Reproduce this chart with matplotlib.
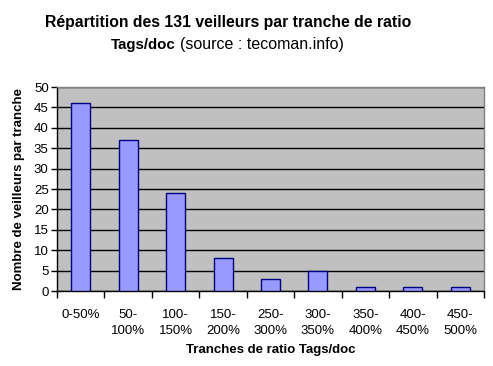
import matplotlib
matplotlib.use("Agg")
import matplotlib.pyplot as plt
import numpy as np

plt.rcParams['font.family'] = ['Liberation Sans', 'DejaVu Sans']

# data
categories = ['0-50%', '50-\n100%', '100-\n150%', '150-\n200%', '250-\n300%',
              '300-\n350%', '350-\n400%', '400-\n450%', '450-\n500%']
counts = [46, 37, 24, 8, 3, 5, 1, 1, 1]

W, H = 493, 366
fig = plt.figure(figsize=(W / 100, H / 100), dpi=100)
ax = fig.add_axes([57 / W, (H - 291) / H, (484 - 57) / W, (291 - 87) / H])

x = np.arange(len(counts))
ax.set_facecolor('#c0c0c0')
ax.set_axisbelow(True)
ax.yaxis.grid(True, color='black', linewidth=1)
ax.bar(x, counts, width=0.4, color='#9999ff', edgecolor='#000080', linewidth=1, zorder=3)

ax.set_xlim(-0.5, len(counts) - 0.5)
ax.set_ylim(0, 50)
ax.set_yticks(range(0, 51, 5))
ax.tick_params(axis='y', labelsize=9.5, length=4, width=1, direction='out', pad=2)

# x ticks sit on the category boundaries, labels in the middle
ax.set_xticks(np.arange(-0.5, len(counts), 1))
ax.set_xticklabels([])
ax.set_xticks(x, minor=True)
ax.set_xticklabels(categories, minor=True, fontsize=9.5, linespacing=1.4)
ax.tick_params(axis='x', which='major', length=5, width=1, direction='out')
ax.tick_params(axis='x', which='minor', length=0, pad=13)

for s in ['left', 'bottom']:
    ax.spines[s].set_color('black')
    ax.spines[s].set_linewidth(1)
for s in ['right', 'top']:
    ax.spines[s].set_color('#808080')
    ax.spines[s].set_linewidth(1)

ax.set_xlabel('Tranches de ratio Tags/doc', fontsize=9.5, fontweight='bold', labelpad=5)
ax.set_ylabel('Nombre de veilleurs par tranche', fontsize=9.5, fontweight='bold', labelpad=6)

fig.text(228 / W, 1 - 22 / H, 'Répartition des 131 veilleurs par tranche de ratio',
         ha='center', va='center', fontsize=11.3, fontweight='bold')
fig.text(176 / W, 1 - 45 / H, 'Tags/doc', ha='right', va='center',
         fontsize=10.8, fontweight='bold')
fig.text(180 / W, 1 - 45 / H, '(source : tecoman.info)', ha='left', va='center',
         fontsize=11.5)

fig.savefig('out.png', dpi=100, facecolor='white')
